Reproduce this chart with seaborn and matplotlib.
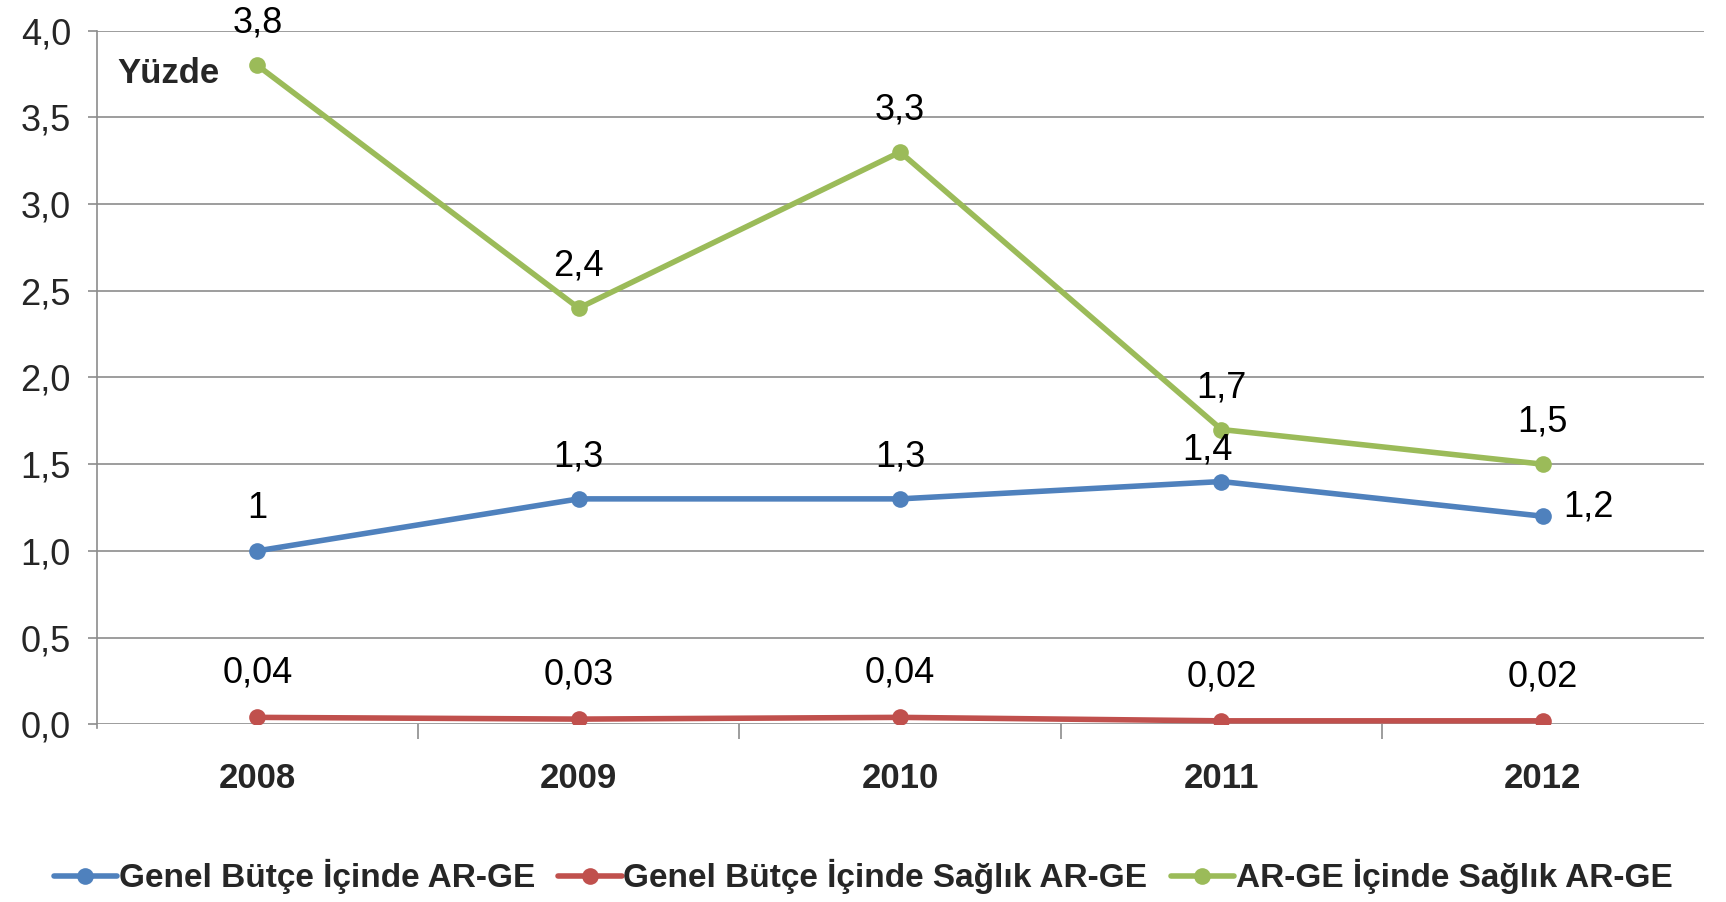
import pandas as pd
import matplotlib.pyplot as plt
import seaborn as sns

# values
years = ["2008", "2009", "2010", "2011", "2012"]
genel_arge = [1.0, 1.3, 1.3, 1.4, 1.2]
genel_saglik = [0.04, 0.03, 0.04, 0.02, 0.02]
arge_saglik = [3.8, 2.4, 3.3, 1.7, 1.5]
series_names = [
    "Genel Bütçe İçinde AR-GE",
    "Genel Bütçe İçinde Sağlık AR-GE",
    "AR-GE İçinde Sağlık AR-GE",
]
y_ticks = [0.0, 0.5, 1.0, 1.5, 2.0, 2.5, 3.0, 3.5, 4.0]

colors = ["#4F81BD", "#C0504D", "#9BBB59"]

df = pd.DataFrame({
    "yil": years * 3,
    "deger": genel_arge + genel_saglik + arge_saglik,
    "seri": [series_names[0]] * 5 + [series_names[1]] * 5 + [series_names[2]] * 5,
})

sns.set_theme(style="white")
plt.rcParams["font.family"] = ["Liberation Sans", "DejaVu Sans"]

fig = plt.figure(figsize=(17.26, 9.02), dpi=100)
ax = fig.add_axes([0.056, 0.197, 0.931, 0.769])

# grid first so the lines sit on top
for v in y_ticks:
    ax.axhline(v, color="#8c8c8c", lw=1.2, zorder=0)

sns.lineplot(data=df, x="yil", y="deger", hue="seri", palette=colors,
             marker="o", markersize=12, markeredgewidth=0, linewidth=4,
             ax=ax, zorder=3)

ax.set_xlim(-0.5, 4.5)
ax.set_ylim(0, 4.0)
ax.set_xlabel("")
ax.set_ylabel("")

ax.set_yticks(y_ticks)
ax.set_yticklabels([f"{v:.1f}".replace(".", ",") for v in y_ticks], fontsize=26)
ax.set_xticks(range(len(years)))
ax.set_xticklabels(years, fontsize=25, fontweight="bold")
ax.set_xticks([0.5, 1.5, 2.5, 3.5], minor=True)
ax.tick_params(axis="x", which="major", length=0, pad=27)
ax.tick_params(axis="x", which="minor", length=11, width=1.2, color="#8c8c8c", direction="out", bottom=True)
ax.tick_params(axis="y", length=6.5, width=1.2, color="#8c8c8c", direction="out", left=True, pad=12)

for s in ["top", "right", "bottom"]:
    ax.spines[s].set_visible(False)
ax.spines["left"].set_color("#8c8c8c")
ax.spines["left"].set_linewidth(1.2)
ax.spines["left"].set_bounds(-0.02, 4.0)

# data labels
def fmt(v):
    return f"{v:g}".replace(".", ",")

offsets = {
    0: [(0, 42)] * 4 + [(20, 9)],
    1: [(0, 44)] * 5,
    2: [(0, 42)] * 5,
}
offsets[0][3] = (-14, 32)
for i, vals in enumerate([genel_arge, genel_saglik, arge_saglik]):
    for j, v in enumerate(vals):
        dx, dy = offsets[i][j]
        ha = "left" if dx > 15 else "center"
        ax.annotate(fmt(v), (j, v), xytext=(dx, dy), textcoords="offset pixels",
                    ha=ha, va="center", fontsize=26, color="black", zorder=5)

ax.text(0.013, 0.938, "Yüzde", transform=ax.transAxes, fontsize=25,
        fontweight="bold", ha="left", va="center")

ax.legend_.remove()
handles, labels = ax.get_legend_handles_labels()
fig.legend(handles, labels, loc="center", bbox_to_anchor=(0.5, 0.028), ncol=3,
           frameon=False, handlelength=1.9, handletextpad=0.05, columnspacing=0.7,
           prop={"size": 24, "weight": "bold"})

fig.savefig("out.png", dpi=100)
